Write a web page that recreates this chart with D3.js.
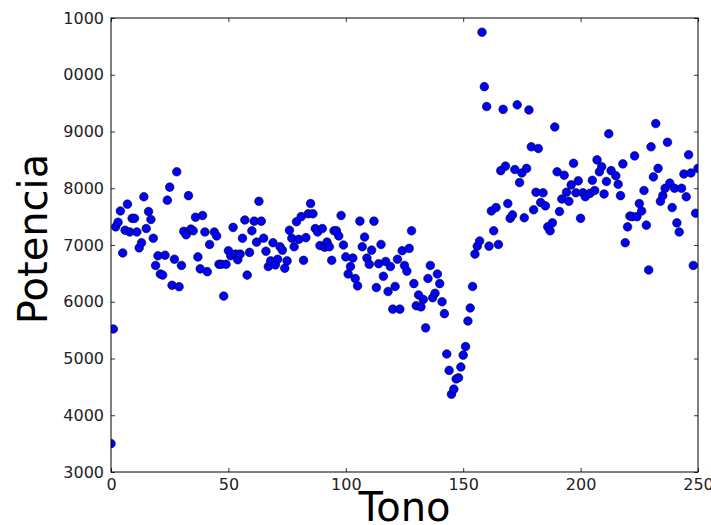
<!DOCTYPE html>
<html>
<head>
<meta charset="utf-8">
<script src="https://cdn.jsdelivr.net/npm/d3@7"></script>
<style>
  body { margin: 0; background: #fff; }
  svg { display: block; font-family: "DejaVu Sans", sans-serif; }
</style>
</head>
<body>
<svg id="chart" width="711" height="525"></svg>
<script>
// Tono (x) and Potencia (y)
const tono = [
  0, 1, 2, 3, 4, 5, 6, 7, 8, 9, 10, 11, 12, 13, 14, 15, 16, 17, 18, 19,
  20, 21, 22, 23, 24, 25, 26, 27, 28, 29, 30, 31, 32, 33, 34, 35, 36, 37, 38, 39,
  40, 41, 42, 44, 45, 46, 47, 48, 49, 50, 51, 52, 53, 54, 55, 56, 57, 58, 59,
  60, 61, 62, 63, 64, 65, 66, 67, 68, 69, 70, 71, 72, 73, 74, 75, 76, 77, 78, 79,
  80, 81, 82, 83, 84, 85, 86, 87, 88, 89, 90, 91, 92, 93, 94, 95, 96, 97, 98, 99,
  100, 101, 102, 103, 104, 105, 106, 107, 108, 109, 110, 111, 112, 113, 114, 115, 116, 117, 118, 119,
  120, 121, 122, 123, 124, 125, 126, 127, 128, 129, 130, 131, 132, 133, 134, 135, 136, 137, 138, 139,
  140, 141, 142, 143, 144, 145, 146, 147, 148, 149, 150, 151, 152, 153, 154, 155, 156, 157, 158, 159,
  160, 161, 162, 163, 164, 165, 166, 167, 168, 169, 170, 171, 172, 173, 174, 175, 176, 177, 178, 179,
  180, 181, 182, 183, 184, 185, 186, 187, 188, 189, 190, 191, 192, 193, 194, 195, 196, 197, 198, 199,
  200, 201, 202, 204, 205, 206, 207, 208, 209, 210, 211, 212, 213, 215, 216, 217, 218, 219,
  220, 221, 222, 223, 224, 225, 226, 227, 228, 229, 230, 231, 232, 233, 234, 235, 236, 237, 238, 239,
  240, 241, 242, 243, 244, 245, 246, 247, 248, 249, 250
];
const potencia = [
  3500, 5520, 7320, 7400, 7600, 6860, 7260, 7720, 7230, 7470, 7470, 7230, 6950, 7040, 7850, 7290, 7590, 7450, 7120, 6640,
  6810, 6490, 6470, 6820, 7790, 8020, 6290, 6750, 8290, 6265, 6640, 7240, 7180, 7870, 7280, 7250, 7490, 6790, 6580, 7520,
  7230, 6530, 7010, 7230, 7160, 6660, 6660, 6100, 6660, 6900, 6810, 7310, 6840, 6740, 6840, 7120, 7440, 6470, 6870,
  7250, 7420, 7050, 7770, 7420, 7120, 6890, 6620, 6720, 7040, 6650, 6750, 6970, 6910, 6590, 6720, 7260, 7120, 6970, 7410,
  7100, 7500, 6730, 7130, 7550, 7730, 7550, 7290, 7230, 6990, 7290, 6960, 7050, 6970, 6730, 7250, 7250, 7160, 7520, 7000,
  6790, 6490, 6620, 6770, 6410, 6280, 7420, 6970, 7140, 6770, 6660, 6910, 7420, 6250, 6670, 7010, 6450, 6710, 6180, 6620,
  5870, 6270, 6750, 5870, 6900, 6640, 6540, 6940, 7250, 6320, 5930, 6120, 5910, 6040, 5540, 6410, 6640, 6070, 6150, 6490,
  6320, 6000, 5790, 5080, 4790, 4370, 4460, 4640, 4660, 4850, 5060, 5210, 5660, 5890, 6270, 6840, 6980, 7070, 10750, 9790,
  9440, 6980, 7600, 7250, 7660, 7010, 8310, 9390, 8390, 7730, 7470, 7530, 8330, 9470, 8100, 8270, 7480, 8350, 9380, 8730,
  7620, 7930, 8700, 7750, 7920, 7690, 7320, 7250, 7390, 9080, 8290, 7590, 7810, 8230, 7930, 7770, 8060, 8440, 7920, 8130,
  7470, 7920, 7850, 7910, 8140, 7960, 8500, 8290, 8380, 7900, 8120, 8960, 8310, 8220, 8070, 7870, 8430, 7040,
  7320, 7510, 7500, 8570, 7500, 7730, 7600, 7960, 7350, 6560, 8730, 8200, 9140, 8350, 7770, 7870, 8000, 8810, 8090, 7660,
  8000, 7390, 7230, 8000, 8250, 7850, 8590, 8270, 6640, 7560, 8350
];
const xTicks = [0, 50, 100, 150, 200, 250];
const yTicks = [3000, 4000, 5000, 6000, 7000, 8000, 9000, 10000, 11000];

const svg = d3.select("#chart");
const mLeft = 111, mRight = 698, mTop = 18, mBottom = 472;

const x = d3.scaleLinear().domain([0, 250]).range([mLeft, mRight]);
const y = d3.scaleLinear().domain([3000, 11000]).range([mBottom, mTop]);

svg.append("clipPath").attr("id", "plotclip")
  .append("rect")
  .attr("x", mLeft).attr("y", mTop)
  .attr("width", mRight - mLeft).attr("height", mBottom - mTop);

// the left edge of the original cuts off the first digit of the 5-digit labels
svg.append("clipPath").attr("id", "ylabclip")
  .append("rect")
  .attr("x", 63).attr("y", 0).attr("width", 711).attr("height", 525);

svg.append("g")
  .attr("clip-path", "url(#plotclip)")
  .selectAll("circle")
  .data(tono)
  .enter().append("circle")
  .attr("cx", d => x(d))
  .attr("cy", (d, i) => y(potencia[i]))
  .attr("r", 4.3)
  .style("fill", "#0000ff")
  .style("stroke", "#000")
  .style("stroke-width", 0.6);

function styleAxis(g) {
  g.select(".domain").remove();
  g.selectAll(".tick line").attr("stroke", "#000").attr("stroke-width", 0.8);
  g.selectAll("text")
    .attr("font-family", "DejaVu Sans, sans-serif")
    .attr("font-size", 16)
    .attr("fill", "#222");
}

const xAxis = svg.append("g")
  .attr("transform", `translate(0,${mBottom})`)
  .call(d3.axisBottom(x).tickValues(xTicks).tickSizeInner(-4).tickSizeOuter(0))
  .call(styleAxis);
xAxis.selectAll("text").attr("y", 7);

svg.append("g")
  .attr("transform", `translate(0,${mTop})`)
  .call(d3.axisTop(x).tickValues(xTicks).tickSizeInner(-4).tickSizeOuter(0).tickFormat(""))
  .call(styleAxis);

const labWrap = svg.append("g").attr("clip-path", "url(#ylabclip)");
const yAxis = labWrap.append("g")
  .attr("transform", `translate(${mLeft},0)`)
  .call(d3.axisLeft(y).tickValues(yTicks).tickSizeInner(-4).tickSizeOuter(0).tickFormat(d3.format("d")))
  .call(styleAxis);
yAxis.selectAll("text").attr("x", -7);

svg.append("g")
  .attr("transform", `translate(${mRight},0)`)
  .call(d3.axisRight(y).tickValues(yTicks).tickSizeInner(-4).tickSizeOuter(0).tickFormat(""))
  .call(styleAxis);

svg.append("rect")
  .attr("x", mLeft).attr("y", mTop)
  .attr("width", mRight - mLeft).attr("height", mBottom - mTop)
  .attr("fill", "none")
  .attr("stroke", "#000")
  .attr("stroke-width", 1);

svg.append("text")
  .attr("x", (mLeft + mRight) / 2)
  .attr("y", 521)
  .attr("text-anchor", "middle")
  .attr("font-size", 40)
  .attr("fill", "#000")
  .text("Tono");

svg.append("text")
  .attr("transform", `translate(47,${(mTop + mBottom) / 2 - 6}) rotate(-90)`)
  .attr("text-anchor", "middle")
  .attr("font-size", 40)
  .attr("fill", "#000")
  .text("Potencia");
</script>
</body>
</html>
